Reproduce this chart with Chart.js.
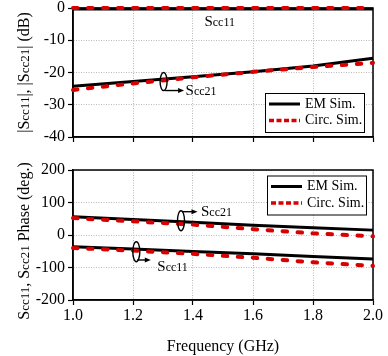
<!DOCTYPE html>
<html><head><meta charset="utf-8">
<script src="https://cdn.jsdelivr.net/npm/chart.js@4/dist/chart.umd.min.js"></script>
<style>
body{margin:0;background:#fff}
#wrap{position:relative;width:388px;height:356px;background:#fff}
canvas{position:absolute;left:0;top:0}
</style></head>
<body><div id="wrap"><canvas id="c1" width="388" height="356"></canvas><canvas id="c2" width="388" height="356"></canvas></div>
<script>
// ---- data ----
const freq = [1.0, 1.2, 1.4, 1.6, 1.8, 2.0];
const emMagS11   = [-0.3, -0.3, -0.3, -0.3, -0.3, -0.3];
const circMagS11 = [0, 0, 0, 0, 0, 0];
const emMagS21   = [-24.3, -22.8, -21.3, -19.8, -18.0, -15.6];
const circMagS21 = [-25.4, -23.4, -21.5, -19.8, -18.3, -17.0];
const emPhS21    = [56, 48, 39, 30, 22, 15];
const circPhS21  = [52, 42, 32, 18, 5, -4];
const emPhS11    = [-36, -43, -51, -58, -66, -74];
const circPhS11  = [-40, -48, -58, -70, -84, -95];
const magTicks   = [-40, -30, -20, -10, 0];
const phaseTicks = [-200, -100, 0, 100, 200];
const freqTicks  = [1.0, 1.2, 1.4, 1.6, 1.8, 2.0];
const legendLabels = ['EM Sim.', 'Circ. Sim.'];

const FONT = '"Liberation Serif", "Times New Roman", serif';
const BLACK = '#000000';
const RED = '#d80000';

function pts(ys) { return freq.map((f, i) => ({x: f, y: ys[i]})); }
function emDs(ys) { return {data: pts(ys), borderColor: BLACK, borderWidth: 3, pointRadius: 0, fill: false, tension: 0, clip: 4}; }
function circDs(ys) { return {data: pts(ys), borderColor: RED, borderWidth: 4, borderDash: [4.5, 10.5], borderCapStyle: 'round', pointRadius: 0, fill: false, tension: 0, clip: 5}; }

function mixed(ctx, parts, x, y, align) {
  let total = 0; const w = [];
  parts.forEach(p => { ctx.font = p[1] + 'px ' + FONT; const m = ctx.measureText(p[0]).width; w.push(m); total += m; });
  let cx = align === 'center' ? x - total / 2 : x;
  ctx.textAlign = 'left'; ctx.textBaseline = 'alphabetic'; ctx.fillStyle = '#000';
  parts.forEach((p, i) => { ctx.font = p[1] + 'px ' + FONT; ctx.fillText(p[0], cx, y); cx += w[i]; });
}
function arrow(ctx, x1, y, x2) {
  ctx.beginPath(); ctx.moveTo(x1, y); ctx.lineTo(x2 - 4, y); ctx.stroke();
  ctx.beginPath(); ctx.moveTo(x2, y); ctx.lineTo(x2 - 6, y - 2.5); ctx.lineTo(x2 - 6, y + 2.5); ctx.closePath(); ctx.fill();
}
function ellipse(ctx, cx, cy, rx, ry) {
  ctx.beginPath(); ctx.ellipse(cx, cy, rx, ry, 0, 0, Math.PI * 2); ctx.stroke();
}
function drawLegend(ctx, x, y, w, h) {
  ctx.save();
  ctx.fillStyle = '#fff'; ctx.fillRect(x, y, w, h);
  ctx.strokeStyle = '#000'; ctx.lineWidth = 1; ctx.strokeRect(x + 0.5, y + 0.5, w, h);
  const l1 = y + 11, l2 = y + 27.5;
  ctx.lineWidth = 3; ctx.strokeStyle = BLACK;
  ctx.beginPath(); ctx.moveTo(x + 4, l1); ctx.lineTo(x + 35, l1); ctx.stroke();
  ctx.lineWidth = 3.5; ctx.strokeStyle = RED; ctx.setLineDash([5, 2.5]);
  ctx.beginPath(); ctx.moveTo(x + 4, l2); ctx.lineTo(x + 35, l2); ctx.stroke();
  ctx.setLineDash([]);
  ctx.fillStyle = '#000'; ctx.font = '14px ' + FONT; ctx.textAlign = 'left'; ctx.textBaseline = 'middle';
  ctx.fillText(legendLabels[0], x + 40, l1);
  ctx.fillText(legendLabels[1], x + 40, l2);
  ctx.restore();
}
function yTitle(ctx, parts, x, cy) {
  ctx.save(); ctx.translate(x, cy); ctx.rotate(-Math.PI / 2); mixed(ctx, parts, 0, 0, 'center'); ctx.restore();
}

const boxPlugin = {
  id: 'box',
  beforeDatasetsDraw(chart) {
    const a = chart.chartArea, ctx = chart.ctx;
    ctx.save(); ctx.strokeStyle = '#000'; ctx.lineWidth = 1.5;
    ctx.strokeRect(a.left, a.top, a.right - a.left, a.bottom - a.top);
    ctx.restore();
  }
};

function xScale(showLabels, height) {
  return {
    type: 'linear', min: 1.0, max: 2.0,
    afterBuildTicks(s) { s.ticks = freqTicks.map(v => ({value: v})); },
    afterFit(s) { s.height = height; s.paddingLeft = 0; s.paddingRight = 0; },
    ticks: {display: showLabels, color: '#000', font: {family: FONT, size: 16}, padding: 1,
            callback: v => Number(v).toFixed(1)},
    grid: {color: '#b8b8b8', lineWidth: 1, tickColor: '#000', tickLength: 5, tickWidth: 1.2},
    border: {color: '#000', width: 1.5, dash: [1, 1.5]},
    title: showLabels ? {display: true, text: 'Frequency (GHz)', color: '#000', font: {family: FONT, size: 16}, padding: {top: 0, bottom: 0}} : {display: false}
  };
}
function yScale(min, max, ticksArr) {
  return {
    type: 'linear', min: min, max: max,
    afterBuildTicks(s) { s.ticks = ticksArr.map(v => ({value: v})); },
    afterFit(s) { s.width = 73; s.paddingTop = 0; s.paddingBottom = 0; },
    ticks: {color: '#000', font: {family: FONT, size: 16}, padding: 3},
    grid: {color: '#b8b8b8', lineWidth: 1, tickColor: '#000', tickLength: 5, tickWidth: 1.2},
    border: {color: '#000', width: 1.5, dash: [1, 1.5]}
  };
}

// Chart.js paints dataset 0 last (on top): red circuit traces first so they sit over the black EM traces.
// ---- top chart ----
new Chart(document.getElementById('c1'), {
  type: 'line',
  data: {datasets: [circDs(circMagS11), circDs(circMagS21), emDs(emMagS11), emDs(emMagS21)]},
  options: {
    responsive: false, animation: false, events: [],
    layout: {padding: {left: 0, right: 15, top: 8, bottom: 0}},
    plugins: {legend: {display: false}, tooltip: {enabled: false}},
    scales: {x: xScale(false, 219), y: yScale(-40, 0, magTicks)}
  },
  plugins: [boxPlugin, {
    id: 'annTop',
    afterDatasetsDraw(chart) {
      const ctx = chart.ctx, xs = chart.scales.x, ys = chart.scales.y, a = chart.chartArea;
      ctx.save(); ctx.strokeStyle = '#000'; ctx.fillStyle = '#000'; ctx.lineWidth = 1.4;
      mixed(ctx, [['S', 15], ['cc11', 12]], xs.getPixelForValue(1.438), ys.getPixelForValue(-5.5), 'left');
      const ex = xs.getPixelForValue(1.302), ey = ys.getPixelForValue(-22.8);
      ctx.lineWidth = 1.4; ellipse(ctx, ex, ey, 3.5, 9);
      arrow(ctx, ex + 1.5, ey + 9, ex + 20.5);
      mixed(ctx, [['S', 15], ['cc21', 12]], ex + 22, ey + 13.3, 'left');
      ctx.restore();
      drawLegend(ctx, a.right - 108, a.bottom - 44, 99, 39);
      yTitle(ctx, [['|S', 16], ['cc11', 13], ['|, |S', 16], ['cc21', 13], ['| (dB)', 16]], 29, (a.top + a.bottom) / 2);
    }
  }]
});

// ---- bottom chart ----
new Chart(document.getElementById('c2'), {
  type: 'line',
  data: {datasets: [circDs(circPhS21), circDs(circPhS11), emDs(emPhS21), emDs(emPhS11)]},
  options: {
    responsive: false, animation: false, events: [],
    layout: {padding: {left: 0, right: 15, top: 170, bottom: 0}},
    plugins: {legend: {display: false}, tooltip: {enabled: false}},
    scales: {x: xScale(true, 56), y: yScale(-200, 200, phaseTicks)}
  },
  plugins: [boxPlugin, {
    id: 'annBot',
    afterDatasetsDraw(chart) {
      const ctx = chart.ctx, xs = chart.scales.x, ys = chart.scales.y, a = chart.chartArea;
      ctx.save(); ctx.strokeStyle = '#000'; ctx.fillStyle = '#000'; ctx.lineWidth = 1.4;
      const e1x = xs.getPixelForValue(1.36), e1y = ys.getPixelForValue(44);
      ellipse(ctx, e1x, e1y, 3.5, 10);
      arrow(ctx, e1x + 1, e1y - 9, e1x + 16.5);
      mixed(ctx, [['S', 15], ['cc21', 12]], e1x + 20, e1y - 4.7, 'left');
      const e2x = xs.getPixelForValue(1.211), e2y = ys.getPixelForValue(-51.4);
      ellipse(ctx, e2x, e2y, 3.5, 10);
      arrow(ctx, e2x + 1, e2y + 8.3, e2x + 14.5);
      mixed(ctx, [['S', 15], ['cc11', 12]], e2x + 21, e2y + 19.3, 'left');
      ctx.restore();
      drawLegend(ctx, a.right - 106, a.top + 5.5, 99, 39);
      yTitle(ctx, [['S', 16], ['cc11', 13], [', S', 16], ['cc21', 13], [' Phase (deg.)', 16]], 29, (a.top + a.bottom) / 2 + 6);
    }
  }]
});
</script></body></html>
